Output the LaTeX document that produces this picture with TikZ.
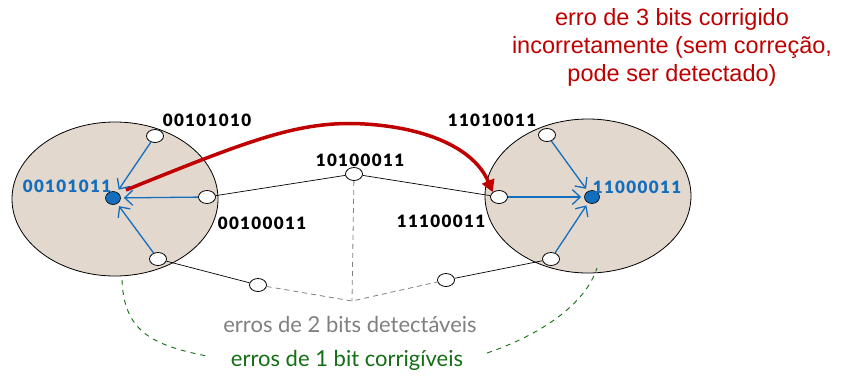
\documentclass[tikz,border=0pt]{standalone}
\usepackage{fontspec}
\setmainfont{Lato}
\newfontfamily\codefont[LetterSpace=8]{Lato Black}
\newfontfamily\arialfont{Liberation Sans}
\usetikzlibrary{shapes.geometric,arrows.meta}
\definecolor{ablue}{RGB}{20,110,190}
\definecolor{ared}{RGB}{192,0,0}
\definecolor{agreen}{RGB}{20,110,20}
\definecolor{abeige}{RGB}{226,216,206}
\begin{document}
\begin{tikzpicture}[x=1pt,y=-1pt,
  region/.style={draw=black,fill=abeige,ellipse,minimum width=206pt,minimum height=154pt,line width=0.8pt},
  wnode/.style={draw=black,fill=white,ellipse,minimum width=17pt,minimum height=13pt,inner sep=0pt,line width=0.8pt},
  bnode/.style={draw=black,fill=ablue,ellipse,minimum width=15pt,minimum height=13pt,inner sep=0pt,line width=0.6pt},
  code/.style={font=\codefont\fontsize{17}{19}\selectfont,inner sep=0pt},
  barrow/.style={draw=ablue,line width=1.3pt,-{Straight Barb[length=8pt,width=15pt]},shorten >=3pt},
  link/.style={draw=black,line width=0.7pt},
  glink/.style={draw=gray,dash pattern=on 5pt off 4pt,line width=0.8pt},
  greenlink/.style={draw=agreen,dash pattern=on 5pt off 5pt,line width=0.9pt},
  bigtext/.style={font=\fontsize{22}{26}\selectfont,inner sep=0pt}]
\path[use as bounding box,fill=white] (0,0) rectangle (841,376);
% regions
\node[region] (L) at (115,199) {};
\node[region] (R) at (588,196) {};
\coordinate (J) at (352,301);
% nodes
\node[wnode] (l1) at (155,136) {};
\node[wnode] (l2) at (207,197) {};
\node[wnode] (l3) at (158,259) {};
\node[wnode] (b1) at (258,285) {};
\node[wnode] (m) at (354,174) {};
\node[wnode] (r1) at (499,197) {};
\node[wnode] (r2) at (547,135) {};
\node[wnode] (r3) at (551,259) {};
\node[wnode] (b2) at (446,280) {};
\node[bnode] (cl) at (113,198) {};
\node[bnode] (cr) at (592,197) {};
\draw[link] (l2) -- (m) -- (r1);
\draw[link] (l3) -- (b1);
\draw[link] (r3) -- (b2);
\draw[glink] (b1) -- (J) -- (b2);
\draw[glink] (m) -- (J);
% blue arrows
\draw[barrow] (l1) -- (cl);
\draw[barrow] (l2) -- (cl);
\draw[barrow] (l3) -- (cl);
\draw[barrow] (r1) -- (cr);
\draw[barrow] (r2) -- (cr);
\draw[barrow] (r3) -- (cr);
% red arrow
\coordinate (rs) at (126,190);
\draw[draw=ared,line width=3.5pt,-{Triangle[length=12pt,width=13pt]}] (rs) .. controls (250,140) and (300,120) .. (365,124) .. controls (430,128) and (475,150) .. (r1.north west);
% labels
\node[code] (t1) at (207,120) {00101010};
\node[code,text=ablue] (t2) at (67,186) {00101011};
\node[code] (t3) at (262,223) {00100011};
\node[code] (t4) at (360,160) {10100011};
\node[code] (t5) at (492,120) {11010011};
\node[code] (t6) at (441,221) {11100011};
\node[code,text=ablue] (t7) at (637,187) {11000011};
\node[font=\arialfont\fontsize{23.5}{28}\selectfont,text=ared,align=center,inner sep=0pt] (rt) at (672,47) {erro de 3 bits corrigido\\incorretamente (sem correção,\\pode ser detectado)};
\node[bigtext,text=gray] (gt) at (350,324) {erros de 2 bits detectáveis};
\node[bigtext,text=agreen] (grt) at (347,360) {erros de 1 bit corrigíveis};
\coordinate (g1) at (122,280);
\coordinate (g2) at (597,268);
\coordinate (g3) at (207,356);
\coordinate (g4) at (487,353);
\draw[greenlink] (g1) .. controls (124,330) and (150,345) .. (g3);
\draw[greenlink] (g4) .. controls (540,335) and (585,305) .. (g2);
\end{tikzpicture}
\end{document}
